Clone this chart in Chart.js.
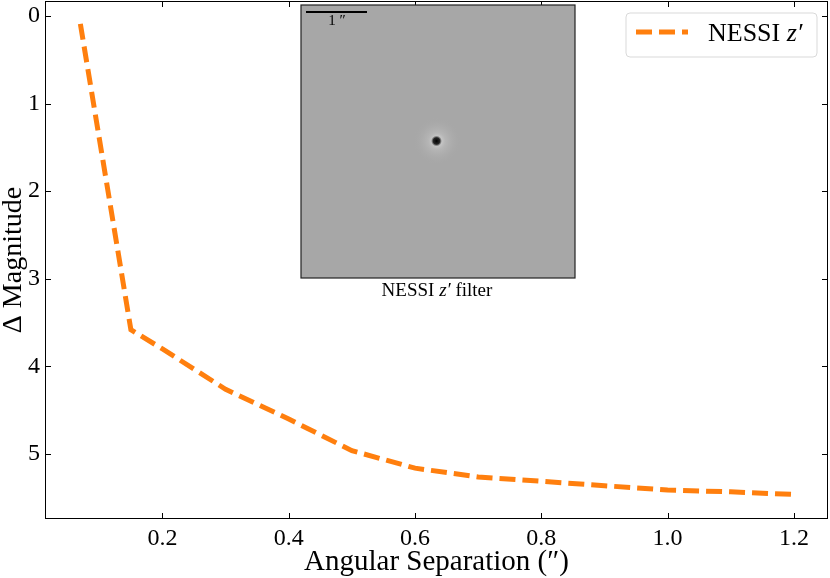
<!DOCTYPE html>
<html lang="en">
<head>
<meta charset="UTF-8">
<title>NESSI contrast curve</title>
<script src="https://cdn.jsdelivr.net/npm/chart.js"></script>
<style>
  html, body { margin: 0; padding: 0; background: #fff; }
  #wrap { width: 830px; height: 578px; }
</style>
</head>
<body>
<div id="wrap"><canvas id="contrast"></canvas></div>
<script>
// data
const separation = [0.07, 0.15, 0.2, 0.3, 0.4, 0.5, 0.6, 0.7, 0.8, 0.9, 1.0, 1.1, 1.2];
const deltaMag = [0.09, 3.58, 3.80, 4.26, 4.60, 4.96, 5.16, 5.26, 5.31, 5.36, 5.41, 5.43, 5.46];
const xTicks = [0.2, 0.4, 0.6, 0.8, 1.0, 1.2];
const yTicks = [0, 1, 2, 3, 4, 5];
const seriesName = 'NESSI';

const SERIF = '"Liberation Serif", "DejaVu Serif", serif';
const ORANGE = '#ff7f0e';

// box, inward ticks on all four sides, inset image and legend
const decor = {
  id: 'decor',
  afterDraw(chart) {
    const ctx = chart.ctx;
    const a = chart.chartArea;
    const xs = chart.scales.x, ys = chart.scales.y;
    ctx.save();
    ctx.strokeStyle = '#000';
    ctx.lineWidth = 1;
    ctx.strokeRect(a.left + 0.5, a.top + 0.5, a.right - a.left - 1, a.bottom - a.top - 1);
    ctx.beginPath();
    xTicks.forEach(v => {
      const px = Math.round(xs.getPixelForValue(v)) + 0.5;
      ctx.moveTo(px, a.bottom); ctx.lineTo(px, a.bottom - 6);
      ctx.moveTo(px, a.top); ctx.lineTo(px, a.top + 6);
    });
    yTicks.forEach(v => {
      const py = Math.round(ys.getPixelForValue(v)) + 0.5;
      ctx.moveTo(a.left, py); ctx.lineTo(a.left + 6, py);
      ctx.moveTo(a.right, py); ctx.lineTo(a.right - 6, py);
    });
    ctx.stroke();

    // inset image
    const ix = 301, iy = 5, iw = 274, ih = 273;
    ctx.fillStyle = '#a7a7a7';
    ctx.fillRect(ix, iy, iw, ih);
    const cx = 437, cy = 141;
    let g = ctx.createRadialGradient(cx, cy, 0, cx, cy, 24);
    g.addColorStop(0, 'rgba(235,235,235,0.9)');
    g.addColorStop(0.35, 'rgba(200,200,200,0.45)');
    g.addColorStop(1, 'rgba(167,167,167,0)');
    ctx.fillStyle = g;
    ctx.beginPath(); ctx.arc(cx, cy, 24, 0, Math.PI * 2); ctx.fill();
    g = ctx.createRadialGradient(cx - 0.5, cy, 0, cx - 0.5, cy, 5.5);
    g.addColorStop(0, 'rgba(0,0,0,1)');
    g.addColorStop(0.6, 'rgba(20,20,20,0.9)');
    g.addColorStop(1, 'rgba(60,60,60,0)');
    ctx.fillStyle = g;
    ctx.beginPath(); ctx.arc(cx - 0.5, cy, 5.5, 0, Math.PI * 2); ctx.fill();
    ctx.strokeStyle = '#222';
    ctx.lineWidth = 1.2;
    ctx.strokeRect(ix, iy, iw, ih);
    // scale bar
    ctx.fillStyle = '#000';
    ctx.fillRect(306, 11, 61, 2);
    ctx.font = '15px ' + SERIF;
    ctx.textAlign = 'center';
    ctx.textBaseline = 'middle';
    ctx.fillText('1 \u2033', 337, 21);
    // caption
    const capA = 'NESSI ', capB = 'z\u2032', capC = ' filter';
    const capFont = 19;
    ctx.font = capFont + 'px ' + SERIF;
    const wA = ctx.measureText(capA).width, wC = ctx.measureText(capC).width;
    ctx.font = 'italic ' + capFont + 'px ' + SERIF;
    const wB = ctx.measureText(capB).width;
    let tx = 437 - (wA + wB + wC) / 2;
    ctx.textAlign = 'left';
    ctx.font = capFont + 'px ' + SERIF; ctx.fillText(capA, tx, 291); tx += wA;
    ctx.font = 'italic ' + capFont + 'px ' + SERIF; ctx.fillText(capB, tx, 291); tx += wB;
    ctx.font = capFont + 'px ' + SERIF; ctx.fillText(capC, tx, 291);

    // legend
    const lx = 626, ly = 13, lw = 191, lh = 44, r = 4;
    ctx.beginPath();
    ctx.moveTo(lx + r, ly);
    ctx.arcTo(lx + lw, ly, lx + lw, ly + lh, r);
    ctx.arcTo(lx + lw, ly + lh, lx, ly + lh, r);
    ctx.arcTo(lx, ly + lh, lx, ly, r);
    ctx.arcTo(lx, ly, lx + lw, ly, r);
    ctx.closePath();
    ctx.fillStyle = 'rgba(255,255,255,0.8)';
    ctx.fill();
    ctx.strokeStyle = '#d9d9d9';
    ctx.lineWidth = 1;
    ctx.stroke();
    const ds = chart.data.datasets[0];
    ctx.strokeStyle = ds.borderColor;
    ctx.lineWidth = ds.borderWidth;
    ctx.setLineDash(ds.borderDash);
    ctx.beginPath(); ctx.moveTo(636, 32); ctx.lineTo(688, 32); ctx.stroke();
    ctx.setLineDash([]);
    ctx.fillStyle = '#000';
    ctx.font = '26px ' + SERIF;
    ctx.fillText(seriesName + ' ', 708, 34);
    const wn = ctx.measureText(seriesName + ' ').width;
    ctx.font = 'italic 26px ' + SERIF;
    ctx.fillText('z\u2032', 708 + wn, 34);
    ctx.restore();
  }
};

new Chart(document.getElementById('contrast'), {
  type: 'line',
  data: {
    datasets: [{
      label: seriesName + ' z\u2032',
      data: separation.map((x, i) => ({ x: x, y: deltaMag[i] })),
      borderColor: ORANGE,
      borderWidth: 5,
      borderDash: [16, 7],
      borderCapStyle: 'butt',
      pointRadius: 0,
      fill: false,
      tension: 0
    }]
  },
  options: {
    responsive: true,
    maintainAspectRatio: false,
    animation: false,
    layout: { padding: { top: 1, right: 2, left: 0, bottom: 0 } },
    plugins: {
      legend: { display: false },
      tooltip: { enabled: false }
    },
    scales: {
      x: {
        type: 'linear',
        min: 0.014,
        max: 1.254,
        afterBuildTicks: s => { s.ticks = xTicks.map(v => ({ value: v })); },
        afterFit: s => { s.height = 59; s.paddingLeft = 0; s.paddingRight = 0; },
        grid: { display: false, drawTicks: false },
        border: { display: false },
        ticks: {
          color: '#000',
          padding: 5,
          font: { family: SERIF, size: 24 },
          callback: v => v.toFixed(1)
        },
        title: {
          display: true,
          text: 'Angular Separation (\u2033)',
          color: '#000',
          padding: 0,
          font: { family: SERIF, size: 29, lineHeight: 1.1 }
        }
      },
      y: {
        type: 'linear',
        reverse: true,
        min: -0.17,
        max: 5.74,
        afterBuildTicks: s => { s.ticks = yTicks.map(v => ({ value: v })); },
        afterFit: s => { s.width = 45; s.paddingTop = 0; s.paddingBottom = 0; },
        grid: { display: false, drawTicks: false },
        border: { display: false },
        ticks: {
          color: '#000',
          padding: 5,
          font: { family: SERIF, size: 24 },
          callback: v => String(v)
        },
        title: {
          display: true,
          text: '\u0394 Magnitude',
          color: '#000',
          padding: 0,
          font: { family: SERIF, size: 28, lineHeight: 1.0 }
        }
      }
    }
  },
  plugins: [decor]
});
</script>
</body>
</html>
